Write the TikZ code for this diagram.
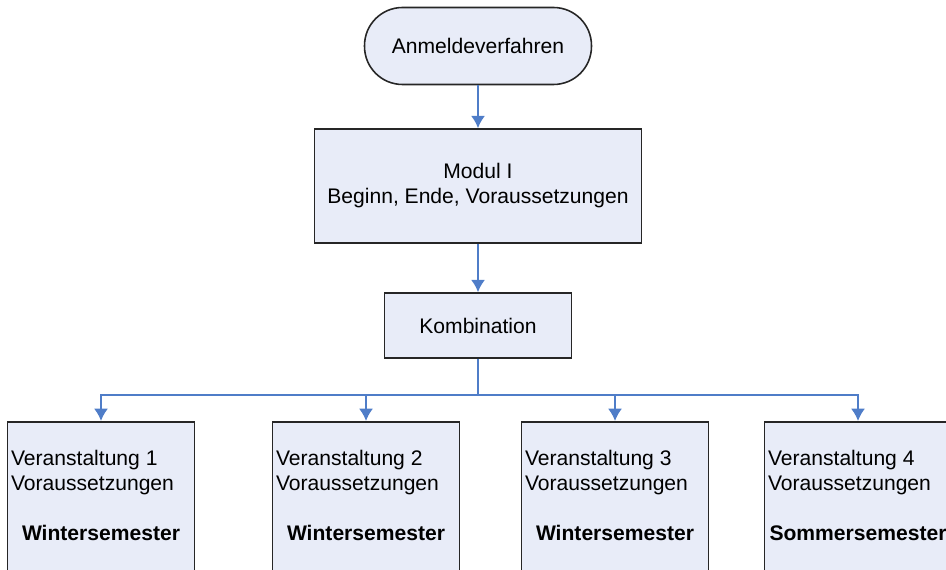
\documentclass[tikz,border=0pt]{standalone}
\usepackage{fontspec}
\setmainfont{Liberation Sans}
\usetikzlibrary{arrows.meta}
\tikzset{>={Latex[width=8pt,length=7pt]}}
\definecolor{boxfill}{RGB}{232,236,248}
\definecolor{linkblue}{RGB}{79,125,200}
\tikzset{
  box/.style={rectangle,draw=black!85,line width=0.9pt,fill=boxfill,align=center,font=\fontsize{12}{14.2}\selectfont},
  startbox/.style={box,rounded corners=0.76cm,minimum width=4.54cm,minimum height=1.54cm},
  course/.style={box,anchor=north,inner sep=2pt},
  link/.style={->,draw=linkblue,line width=1.1pt},
}
\newcommand{\kurs}[2]{\parbox[t][3.4cm][t]{3.6cm}{\vspace*{14pt}{\raggedright Veranstaltung #1\\Voraussetzungen\par}\vspace{14.2pt}{\centering\bfseries #2\par}}}

\begin{document}
\begin{tikzpicture}[x=0.02cm,y=-0.02cm]
    \useasboundingbox (0,0) rectangle (946,570);
    \clip (0,0) rectangle (946,570);
    \node at (478, 46) [startbox] (start) {Anmeldeverfahren};
    \node at (478, 186) [box,minimum width=6.54cm,minimum height=2.28cm] (modul) {Modul I\\Beginn, Ende, Voraussetzungen};
    \node at (478, 325.5) [box,minimum width=3.74cm,minimum height=1.3cm] (komb) {Kombination};
    \node at (101, 421) [course] (v1) {\kurs{1}{Wintersemester}};
    \node at (366, 421) [course] (v2) {\kurs{2}{Wintersemester}};
    \node at (615, 421) [course] (v3) {\kurs{3}{Wintersemester}};
    \node at (858, 421) [course] (v4) {\kurs{4}{Sommersemester}};
    \coordinate (bus) at (478, 395);
    \draw [link] (start) to (modul);
    \draw [link] (modul) to (komb);
    \draw [link] (komb) -- (bus) -| (v1);
    \draw [link] (komb) -- (bus) -| (v2);
    \draw [link] (komb) -- (bus) -| (v3);
    \draw [link] (komb) -- (bus) -| (v4);
  \end{tikzpicture}
\end{document}
